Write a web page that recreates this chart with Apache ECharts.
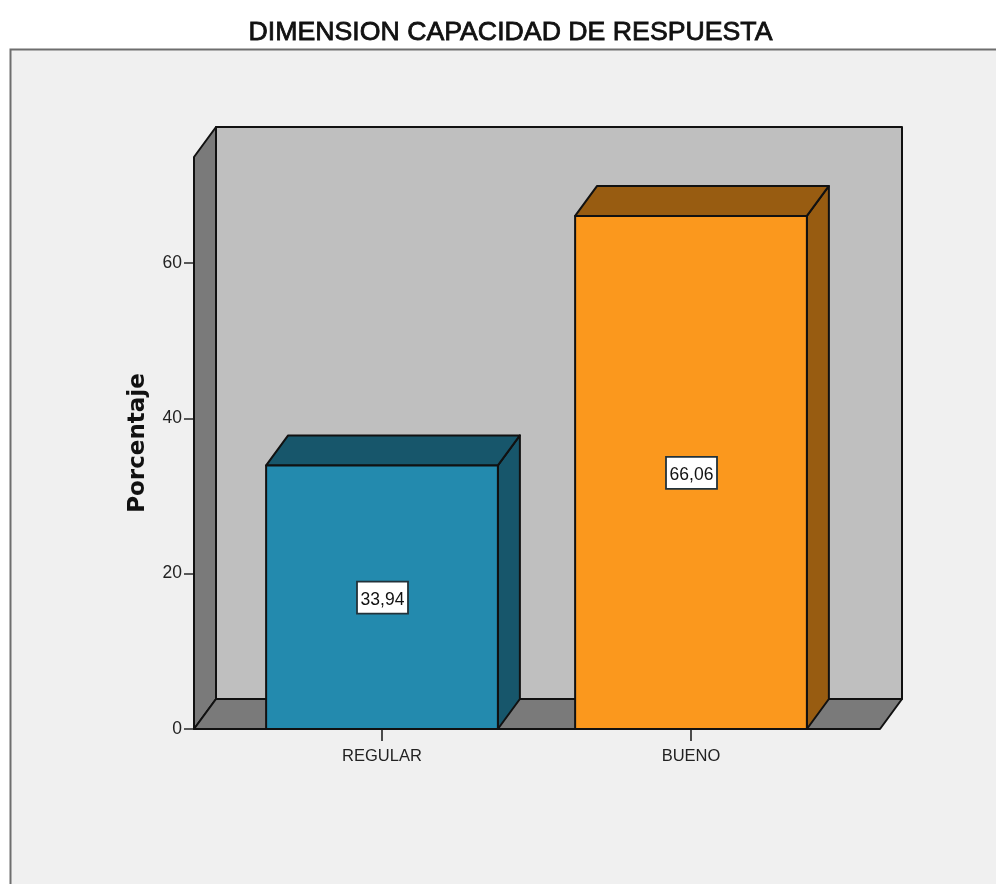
<!DOCTYPE html>
<html>
<head>
<meta charset="utf-8">
<style>html,body{margin:0;padding:0;background:#fff}#chart{width:996px;height:884px}</style>
<script src="https://cdn.jsdelivr.net/npm/echarts@6/dist/echarts.min.js"></script>
</head>
<body>
<div id="chart"></div>
<script>
// Survey result: share of responses per rating
const categories = ['REGULAR', 'BUENO'];
const percentages = [33.94, 66.06];
const yTicks = [0, 20, 40, 60];
const frontColors = ['#238aae', '#fb981d'];
const shadeColors = ['#17566b', '#985c11'];

// Oblique projection of the box depth, in pixels
const DEPTH_X = 22;
const DEPTH_Y = -30;
const EDGE = '#111111';
const EDGE_WIDTH = 2;
const WALL_PAD_LEFT = 33.5;
const WALL_PAD_RIGHT = 34.5;
const BAR_FRACTION = 0.75;

function face(points, fill) {
  return {
    type: 'polygon',
    shape: { points: points },
    style: { fill: fill, stroke: EDGE, lineWidth: EDGE_WIDTH, lineJoin: 'round' }
  };
}

// Back wall, left wall and floor of the plot box
function renderWalls(params, api) {
  const cs = params.coordSys;
  const x0 = cs.x - WALL_PAD_LEFT;
  const x1 = cs.x + cs.width + WALL_PAD_RIGHT;
  const yBase = api.coord([0, 0])[1];
  const yTop = cs.y;
  return {
    type: 'group',
    children: [
      face([[x0 + DEPTH_X, yTop + DEPTH_Y], [x1 + DEPTH_X, yTop + DEPTH_Y],
            [x1 + DEPTH_X, yBase + DEPTH_Y], [x0 + DEPTH_X, yBase + DEPTH_Y]], '#bfbfbf'),
      face([[x0, yTop], [x0 + DEPTH_X, yTop + DEPTH_Y],
            [x0 + DEPTH_X, yBase + DEPTH_Y], [x0, yBase]], '#7a7a7a'),
      face([[x0, yBase], [x1, yBase],
            [x1 + DEPTH_X, yBase + DEPTH_Y], [x0 + DEPTH_X, yBase + DEPTH_Y]], '#7a7a7a')
    ]
  };
}

// Extruded bar with its value box centred on the front face
function renderBar(params, api) {
  const i = api.value(0);
  const v = api.value(1);
  const top = api.coord([i, v]);
  const base = api.coord([i, 0]);
  const half = api.size([1, 0])[0] * BAR_FRACTION / 2;
  const l = top[0] - half, r = top[0] + half;
  const t = top[1], b = base[1];
  const mid = api.coord([i, v / 2]);
  return {
    type: 'group',
    children: [
      face([[r, t], [r + DEPTH_X, t + DEPTH_Y], [r + DEPTH_X, b + DEPTH_Y], [r, b]], shadeColors[i]),
      face([[l, t], [l + DEPTH_X, t + DEPTH_Y], [r + DEPTH_X, t + DEPTH_Y], [r, t]], shadeColors[i]),
      face([[l, t], [r, t], [r, b], [l, b]], frontColors[i]),
      {
        type: 'rect',
        shape: { x: mid[0] - 25, y: mid[1] - 15.5, width: 51, height: 32 },
        style: { fill: '#ffffff', stroke: '#22323a', lineWidth: 1.8 }
      },
      {
        type: 'text',
        x: mid[0] + 0.5, y: mid[1] + 3,
        style: {
          text: v.toFixed(2).replace('.', ','),
          fill: '#111',
          font: '17.5px "Liberation Sans"',
          align: 'center',
          verticalAlign: 'middle'
        }
      }
    ]
  };
}

const chart = echarts.init(document.getElementById('chart'), null, { renderer: 'canvas' });
chart.setOption({
  animation: false,
  backgroundColor: '#ffffff',
  title: {
    text: 'DIMENSION CAPACIDAD DE RESPUESTA',
    left: 505.5,
    top: 14,
    textAlign: 'center',
    textStyle: {
      fontFamily: 'Liberation Sans',
      fontSize: 26.7,
      fontWeight: 'normal',
      color: '#111',
      textBorderColor: '#111',
      textBorderWidth: 0.8
    }
  },
  graphic: [{
    type: 'rect',
    z: -1,
    shape: { x: 10.5, y: 49.5, width: 1000, height: 860 },
    style: { fill: '#f0f0f0', stroke: '#6e6e6e', lineWidth: 2 }
  }],
  grid: { left: 227.5, width: 618, top: 157, height: 572 },
  xAxis: {
    type: 'category',
    data: categories,
    axisLine: { show: false },
    axisTick: { show: true, alignWithLabel: true, length: 12, lineStyle: { color: '#222', width: 1.6 } },
    axisLabel: { margin: 19, fontFamily: 'Liberation Sans', fontSize: 16.5, color: '#222' }
  },
  yAxis: {
    type: 'value',
    min: 0,
    max: 73.65,
    interval: 20,
    offset: 33.5,
    name: 'Porcentaje',
    nameLocation: 'middle',
    nameGap: 44,
    nameTextStyle: { fontFamily: 'DejaVu Sans', fontWeight: 'bold', fontSize: 23, color: '#111' },
    splitLine: { show: false },
    axisLine: { show: false },
    axisTick: { show: true, customValues: yTicks, length: 10, lineStyle: { color: '#333', width: 1.6 } },
    axisLabel: {
      customValues: yTicks,
      margin: 12,
      padding: [4, 0, 0, 0],
      fontFamily: 'Liberation Sans',
      fontSize: 17.5,
      color: '#222'
    }
  },
  series: [
    { type: 'custom', z: 1, clip: false, silent: true, data: [[0, 0]], renderItem: renderWalls },
    {
      type: 'custom',
      z: 2,
      clip: false,
      silent: true,
      encode: { x: 0, y: 1 },
      data: categories.map((c, i) => [i, percentages[i]]),
      renderItem: renderBar
    }
  ]
});
</script>
</body>
</html>
